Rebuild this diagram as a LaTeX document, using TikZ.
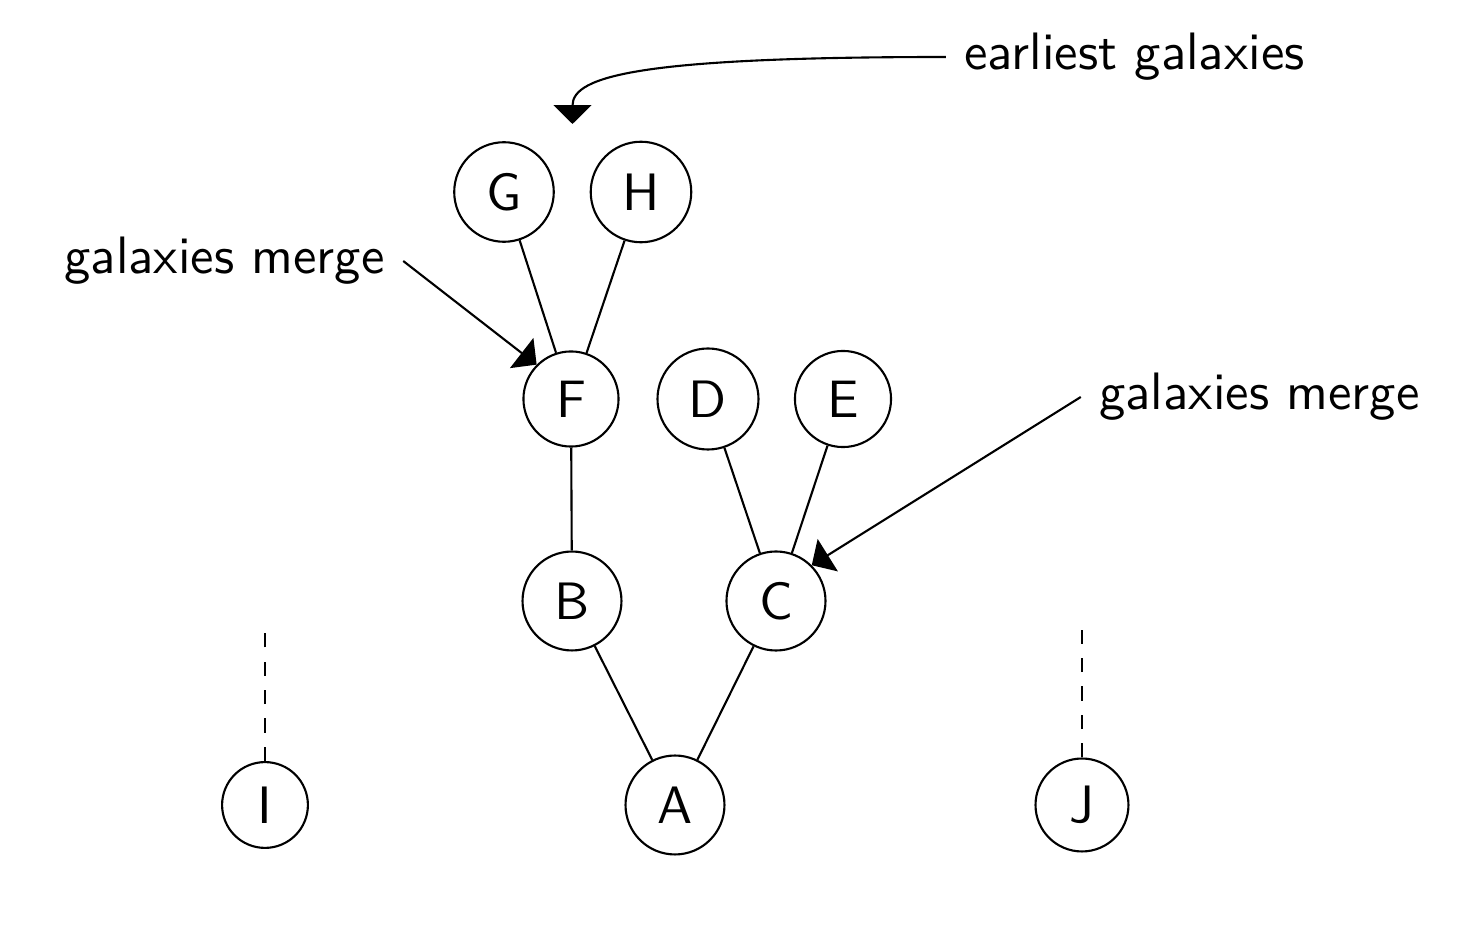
\documentclass[tikz,border=0pt]{standalone}
\usetikzlibrary{arrows.meta}
\begin{document}
\begin{tikzpicture}[x=0.19pt,y=-0.19pt,
  every node/.style={font=\sffamily},
  gal/.style={circle,draw,line width=0.4pt,inner sep=3.25pt},
  lbl/.style={inner sep=3.33pt},
  link/.style={line width=0.4pt},
  future/.style={line width=0.4pt,dash pattern=on 2.7pt off 2.7pt},
  pointer/.style={line width=0.4pt,-{Triangle[length=3.6pt,width=7.2pt]}}]
\useasboundingbox (0,0) rectangle (1476,946);
% galaxies
\node[gal] (G) at (504,192) {G};
\node[gal] (H) at (641,192) {H};
\node[gal] (F) at (571,399) {F};
\node[gal] (D) at (708,399) {D};
\node[gal] (E) at (843,399) {E};
\node[gal] (B) at (572,601) {B};
\node[gal] (C) at (776,601) {C};
\node[gal] (A) at (675,805) {A};
\node[gal] (I) at (265,805) {I};
\node[gal] (J) at (1082,805) {J};
% tree
\draw[link] (G) -- (F);
\draw[link] (H) -- (F);
\draw[link] (F) -- (B);
\draw[link] (D) -- (C);
\draw[link] (E) -- (C);
\draw[link] (B) -- (A);
\draw[link] (C) -- (A);
% dashed
\coordinate (Itop) at (265,630);
\coordinate (Jtop) at (1082,628);
\draw[future] (I.north) -- (Itop);
\draw[future] (J.north) -- (Jtop);
% labels
\node[lbl] (early) at (1134.5,57) {earliest galaxies};
\node[lbl] (mergeL) at (224.5,261) {galaxies merge};
\node[lbl] (mergeR) at (1259.5,397) {galaxies merge};
\coordinate (GHtop) at (572.5,124);
\draw[pointer] (early.west) .. controls (640,57) and (572.5,76) .. (GHtop);
\draw[pointer] (mergeL.east) -- (F.north west);
\draw[pointer] (mergeR.west) -- (C.north east);
\end{tikzpicture}
\end{document}
